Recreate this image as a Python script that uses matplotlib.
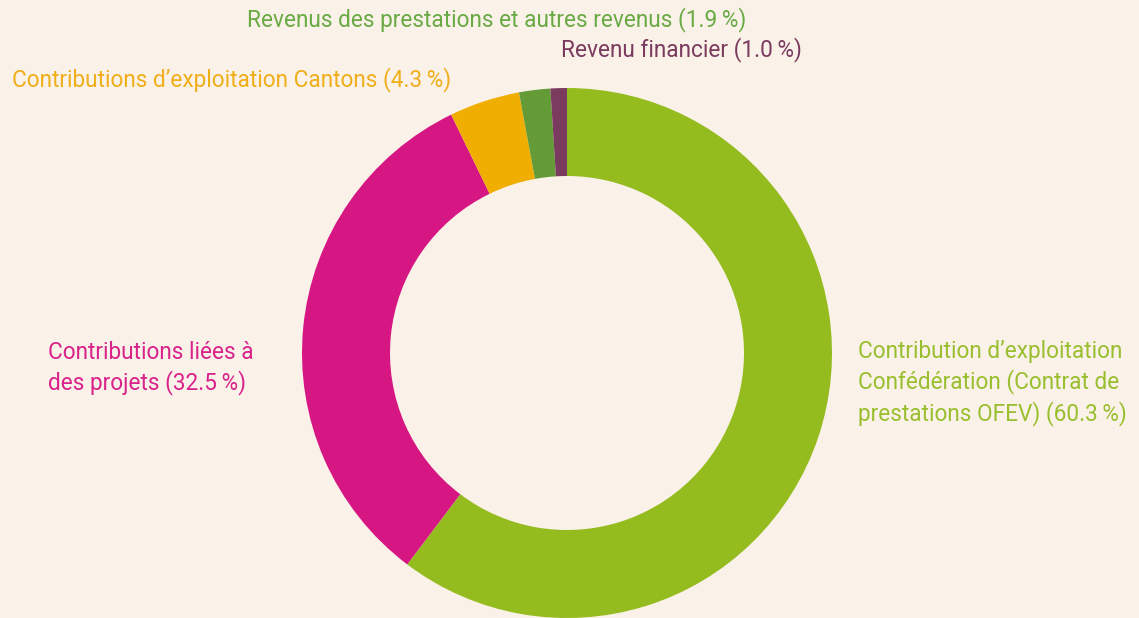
import matplotlib.pyplot as plt

plt.rcParams['font.family'] = ['Roboto', 'DejaVu Sans']

labels = ['Contribution d\u2019exploitation\nConfédération (Contrat de\nprestations OFEV) (60.3\u2009%)',
          'Contributions liées à\ndes projets (32.5\u2009%)',
          'Contributions d\u2019exploitation Cantons (4.3\u2009%)',
          'Revenus des prestations et autres revenus (1.9\u2009%)',
          'Revenu financier (1.0\u2009%)']
values = [60.3, 32.5, 4.3, 1.9, 1.0]
colors = ['#95bc1f', '#d61683', '#f0ae00', '#659b36', '#7b3b5e']
text_colors = ['#9abf2e', '#d9228a', '#f0ae1a', '#6aaa44', '#7b3b5e']

bg = '#faf1e8'
fig = plt.figure(figsize=(11.39, 6.18), dpi=100, facecolor=bg)
ax = fig.add_axes([0, 0, 1, 1])
ax.set_facecolor(bg)
H = 618

ax.pie(values, colors=colors, startangle=90, counterclock=False,
       radius=265, center=(567, H - 353),
       wedgeprops=dict(width=88, edgecolor='none'))

# label positions (pixel coords from top-left)
pos = [(858, 383), (48, 368), (12, 80), (247, 20), (561, 50)]
for lab, c, (x, y) in zip(labels, text_colors, pos):
    ax.text(x, H - y, lab, color=c, fontsize=16.3, ha='left', va='center',
            linespacing=1.35)

ax.set_xlim(0, 1139)
ax.set_ylim(0, H)
ax.set_aspect('equal')
ax.axis('off')
fig.savefig('out.png', dpi=100, facecolor=bg)
